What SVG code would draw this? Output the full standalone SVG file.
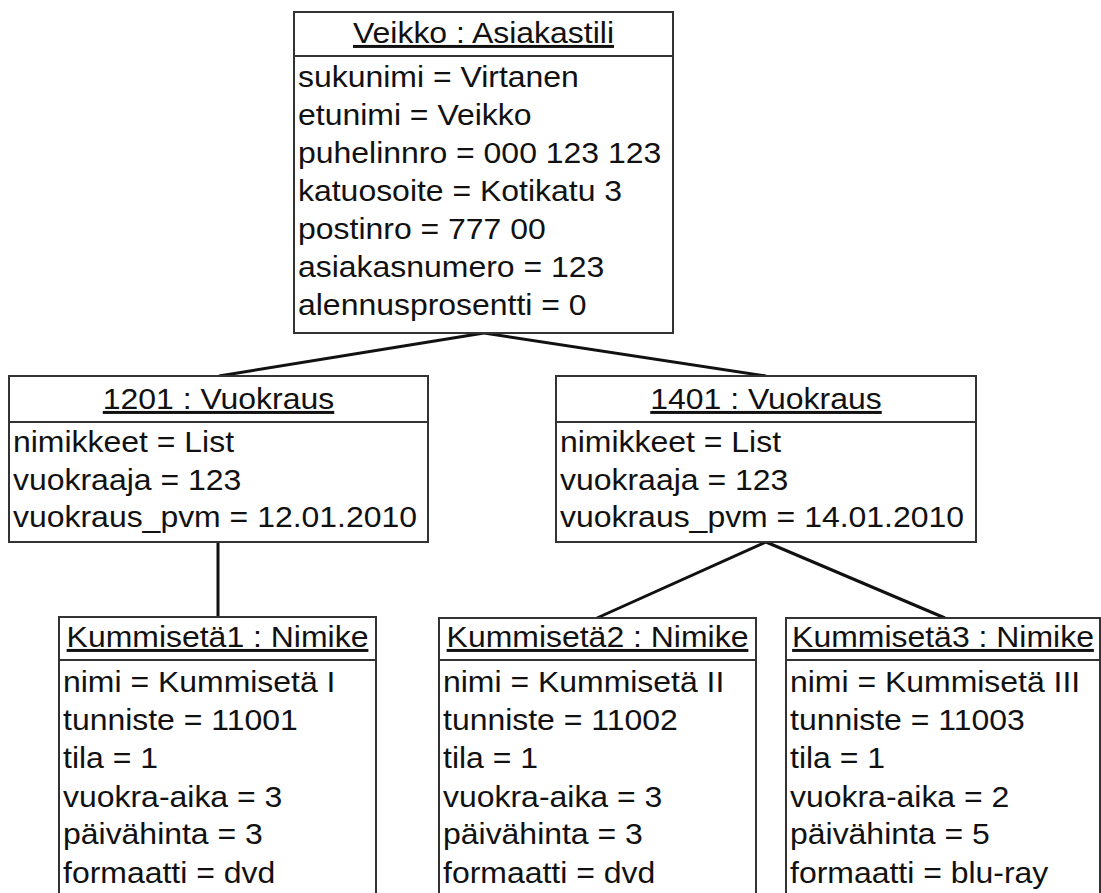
<svg xmlns="http://www.w3.org/2000/svg" width="1101" height="893" viewBox="0 0 1101 893">
<style>
.box{fill:#fff;stroke:#333;stroke-width:2}
.sep{stroke:#333;stroke-width:2}
.t{font-family:"Liberation Sans",Arial,sans-serif;font-size:30px;fill:#111}
.title{text-anchor:middle;text-decoration:underline}
.conn{stroke:#111;stroke-width:3;fill:none}
</style>
<rect width="1101" height="893" fill="#fff"/>
<g id="connectors">
<line class="conn" x1="484" y1="333" x2="219" y2="376"/>
<line class="conn" x1="484" y1="333" x2="766" y2="376"/>
<line class="conn" x1="218" y1="542" x2="218" y2="617"/>
<line class="conn" x1="766" y1="542" x2="597" y2="618"/>
<line class="conn" x1="766" y1="542" x2="945" y2="618"/>
</g>
<g id="veikko">
<rect class="box" x="294" y="12" width="379" height="321"/>
<line class="sep" x1="294" y1="56" x2="673" y2="56"/>
<text class="t title" transform="translate(483.5 43) scale(1.065 1)">Veikko : Asiakastili</text>
<text class="t" transform="translate(298 87) scale(1.065 1)">sukunimi = Virtanen</text>
<text class="t" transform="translate(298 125) scale(1.065 1)">etunimi = Veikko</text>
<text class="t" transform="translate(298 163) scale(1.065 1)">puhelinnro = 000 123 123</text>
<text class="t" transform="translate(298 201) scale(1.065 1)">katuosoite = Kotikatu 3</text>
<text class="t" transform="translate(298 239) scale(1.065 1)">postinro = 777 00</text>
<text class="t" transform="translate(298 277) scale(1.065 1)">asiakasnumero = 123</text>
<text class="t" transform="translate(298 315) scale(1.065 1)">alennusprosentti = 0</text>
</g>
<g id="vuokraus1201">
<rect class="box" x="9" y="376" width="419" height="166"/>
<line class="sep" x1="9" y1="422" x2="428" y2="422"/>
<text class="t title" transform="translate(218.5 409) scale(1.065 1)">1201 : Vuokraus</text>
<text class="t" transform="translate(13 452) scale(1.065 1)">nimikkeet = List</text>
<text class="t" transform="translate(13 490) scale(1.065 1)">vuokraaja = 123</text>
<text class="t" transform="translate(13 527) scale(1.065 1)">vuokraus_pvm = 12.01.2010</text>
</g>
<g id="vuokraus1401">
<rect class="box" x="556" y="376" width="420" height="166"/>
<line class="sep" x1="556" y1="422" x2="976" y2="422"/>
<text class="t title" transform="translate(766 409) scale(1.065 1)">1401 : Vuokraus</text>
<text class="t" transform="translate(560 452) scale(1.065 1)">nimikkeet = List</text>
<text class="t" transform="translate(560 490) scale(1.065 1)">vuokraaja = 123</text>
<text class="t" transform="translate(560 527) scale(1.065 1)">vuokraus_pvm = 14.01.2010</text>
</g>
<g id="kummiseta1">
<rect class="box" x="59" y="617" width="317" height="290"/>
<line class="sep" x1="59" y1="660" x2="376" y2="660"/>
<text class="t title" transform="translate(217.5 647) scale(1.065 1)">Kummisetä1 : Nimike</text>
<text class="t" transform="translate(63 692) scale(1.065 1)">nimi = Kummisetä I</text>
<text class="t" transform="translate(63 730) scale(1.065 1)">tunniste = 11001</text>
<text class="t" transform="translate(63 768) scale(1.065 1)">tila = 1</text>
<text class="t" transform="translate(63 807) scale(1.065 1)">vuokra-aika = 3</text>
<text class="t" transform="translate(63 844) scale(1.065 1)">päivähinta = 3</text>
<text class="t" transform="translate(63 883) scale(1.065 1)">formaatti = dvd</text>
</g>
<g id="kummiseta2">
<rect class="box" x="439" y="618" width="317" height="290"/>
<line class="sep" x1="439" y1="660" x2="756" y2="660"/>
<text class="t title" transform="translate(597.5 647) scale(1.065 1)">Kummisetä2 : Nimike</text>
<text class="t" transform="translate(443 692) scale(1.065 1)">nimi = Kummisetä II</text>
<text class="t" transform="translate(443 730) scale(1.065 1)">tunniste = 11002</text>
<text class="t" transform="translate(443 768) scale(1.065 1)">tila = 1</text>
<text class="t" transform="translate(443 807) scale(1.065 1)">vuokra-aika = 3</text>
<text class="t" transform="translate(443 844) scale(1.065 1)">päivähinta = 3</text>
<text class="t" transform="translate(443 883) scale(1.065 1)">formaatti = dvd</text>
</g>
<g id="kummiseta3">
<rect class="box" x="786" y="618" width="314" height="290"/>
<line class="sep" x1="786" y1="660" x2="1100" y2="660"/>
<text class="t title" transform="translate(943 647) scale(1.065 1)">Kummisetä3 : Nimike</text>
<text class="t" transform="translate(790 692) scale(1.065 1)">nimi = Kummisetä III</text>
<text class="t" transform="translate(790 730) scale(1.065 1)">tunniste = 11003</text>
<text class="t" transform="translate(790 768) scale(1.065 1)">tila = 1</text>
<text class="t" transform="translate(790 807) scale(1.065 1)">vuokra-aika = 2</text>
<text class="t" transform="translate(790 844) scale(1.065 1)">päivähinta = 5</text>
<text class="t" transform="translate(790 883) scale(1.065 1)">formaatti = blu-ray</text>
</g>
</svg>
